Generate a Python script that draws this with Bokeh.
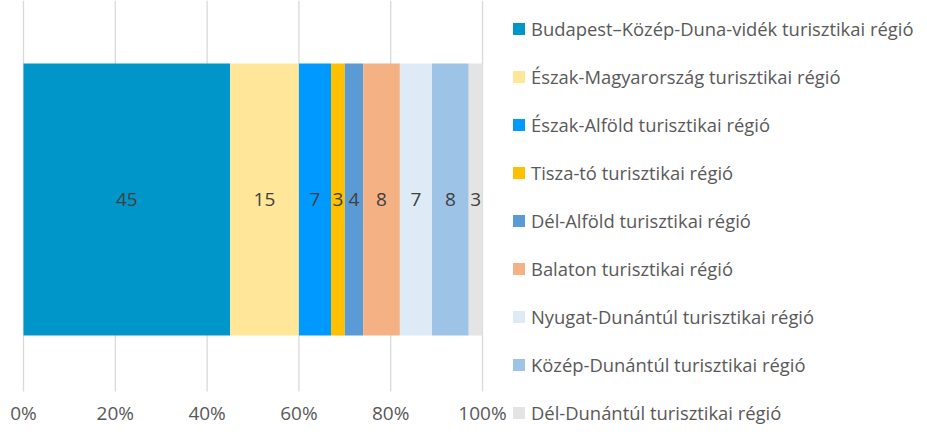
from bokeh.plotting import figure
from bokeh.models import Range1d, Legend, LegendItem, ColumnDataSource
from bokeh.core.properties import value
from bokeh.embed import file_html
from bokeh.resources import INLINE

regions = [
    "Budapest–Közép-Duna-vidék turisztikai régió",
    "Észak-Magyarország turisztikai régió",
    "Észak-Alföld turisztikai régió",
    "Tisza-tó turisztikai régió",
    "Dél-Alföld turisztikai régió",
    "Balaton turisztikai régió",
    "Nyugat-Dunántúl turisztikai régió",
    "Közép-Dunántúl turisztikai régió",
    "Dél-Dunántúl turisztikai régió",
]
shares = [45, 15, 7, 3, 4, 8, 7, 8, 3]
colors = ["#0096C9", "#FFE699", "#0099FF", "#FFC000", "#5B9BD5",
          "#F4B183", "#DEEBF7", "#9DC3E6", "#E4E4E4"]
tick_values = [0, 20, 40, 60, 80, 100]
tick_labels = ["0%", "20%", "40%", "60%", "80%", "100%"]

FONT = "Open Sans"

# layout (pixels)
W, H = 919, 426
X0_PX = 23            # where 0% sits
PX_PER_UNIT = 459 / 100.0
BAR_CENTER = 199
BAR_HEIGHT = 272
GRID_TOP, GRID_BOTTOM = 0, 391
TICK_LABEL_Y = 412

p = figure(width=W, height=H, output_backend="svg", toolbar_location=None,
           x_range=Range1d(-X0_PX / PX_PER_UNIT, (W - X0_PX) / PX_PER_UNIT),
           y_range=Range1d(H, 0),
           min_border_left=0, min_border_right=0, min_border_top=0,
           min_border_bottom=0, outline_line_color=None,
           x_axis_location=None, y_axis_location=None,
           background_fill_color="white", border_fill_color="white")
p.xgrid.visible = False
p.ygrid.visible = False

# vertical gridlines from the tick values
p.segment(x0=tick_values, x1=tick_values,
          y0=[GRID_TOP] * len(tick_values), y1=[GRID_BOTTOM] * len(tick_values),
          line_color="#D9D9D9", line_width=1.3)

# tick labels
p.text(x=tick_values, y=[TICK_LABEL_Y] * len(tick_values), text=tick_labels,
       text_align="center", text_baseline="middle", text_color="#595959",
       text_font=value(FONT), text_font_size="19px")

lefts, rights, mids = [], [], []
acc = 0
for s in shares:
    lefts.append(acc)
    rights.append(acc + s)
    mids.append(acc + s / 2)
    acc += s

renderers = []
for i in range(len(shares)):
    r = p.hbar(y=[BAR_CENTER], left=[lefts[i]], right=[rights[i]],
               height=BAR_HEIGHT, fill_color=colors[i], line_color=None)
    renderers.append(r)

src = ColumnDataSource(dict(x=mids, y=[BAR_CENTER] * len(shares),
                            label=[str(s) for s in shares]))
p.text(x="x", y="y", text="label", source=src, text_align="center",
       text_baseline="middle", text_color="#404040", text_font=value(FONT),
       text_font_size="19px")

legend = Legend(items=[LegendItem(label=regions[i], renderers=[renderers[i]])
                       for i in range(len(regions))],
                location=(511, 1), orientation="vertical",
                padding=0, margin=0, spacing=22, label_height=26,
                glyph_width=15, glyph_height=15, label_standoff=5,
                border_line_color=None, background_fill_alpha=0,
                label_text_font=FONT, label_text_font_size="18.4px",
                label_text_color="#595959")
p.add_layout(legend)

open("out.html", "w").write(file_html(p, INLINE))
